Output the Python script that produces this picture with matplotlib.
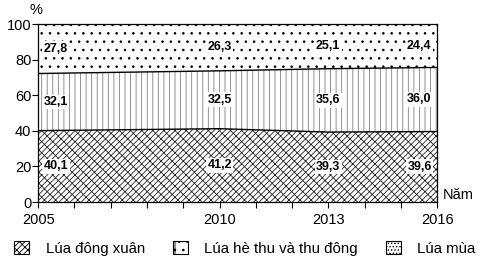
import numpy as np
import matplotlib.pyplot as plt
from matplotlib.patches import Patch

plt.rcParams['font.family'] = ['Liberation Sans', 'DejaVu Sans']
plt.rcParams['hatch.linewidth'] = 0.6

## Daten
nam = np.array([2005, 2010, 2013, 2016])
dong_xuan = np.array([40.1, 41.2, 39.3, 39.6])
he_thu = np.array([32.1, 32.5, 35.6, 36.0])
lua_mua = np.array([27.8, 26.3, 25.1, 24.4])
labels = ['Lúa đông xuân', 'Lúa hè thu và thu đông', 'Lúa mùa']

def fmt(v):
    return ('%.1f' % v).replace('.', ',')

b1 = dong_xuan
b2 = dong_xuan + he_thu

h1 = '//////\\\\\\'
h2 = '|||'
h3 = '..'

fig = plt.figure(figsize=(4.9, 2.76), dpi=100)
ax = fig.add_axes([0.078, 0.268, 0.814, 0.645])

ax.fill_between(nam, 0, b1, facecolor='white', edgecolor='0.15', hatch=h1, linewidth=0)
ax.fill_between(nam, b1, b2, facecolor='white', edgecolor='0.5', hatch=h2, linewidth=0)
ax.fill_between(nam, b2, 100, facecolor='white', edgecolor='black', hatch=h3, linewidth=0)
ax.plot(nam, b1, 'k-', lw=1)
ax.plot(nam, b2, 'k-', lw=1)

# Beschriftungen
for i, x in enumerate(nam):
    if i == 0:
        ha, xx = 'left', x + 0.15
    elif i == len(nam) - 1:
        ha, xx = 'right', x - 0.15
    else:
        ha, xx = 'center', x
    for lo, hi, v in [(0, b1[i], dong_xuan[i]), (b1[i], b2[i], he_thu[i]), (b2[i], 100, lua_mua[i])]:
        ax.text(xx, (lo + hi) / 2, fmt(v), ha=ha, va='center', fontsize=9,
                fontweight='bold',
                bbox=dict(facecolor='white', edgecolor='none', pad=1))

ax.set_xlim(2005, 2016)
ax.set_ylim(0, 100)
ax.set_xticks(nam)
ax.set_xticks(np.arange(2005, 2017), minor=True)
ax.set_yticks([0, 20, 40, 60, 80, 100])
ax.tick_params(axis='both', labelsize=10.5, length=4, width=0.8, direction='out')
ax.tick_params(axis='x', which='minor', length=4, width=0.8)
ax.tick_params(axis='x', pad=4)
ax.tick_params(axis='y', pad=1)
for s in ax.spines.values():
    s.set_linewidth(0.9)

ax.text(-0.005, 1.04, '%', transform=ax.transAxes, ha='center', va='bottom', fontsize=10.5)
ax.text(1.015, 0.0, 'Năm', transform=ax.transAxes, ha='left', va='bottom', fontsize=10.5)

handles = [Patch(facecolor='white', edgecolor='black', hatch=h1, lw=0.8),
           Patch(facecolor='white', edgecolor='black', hatch='|..', lw=0.8),
           Patch(facecolor='white', edgecolor='black', hatch='.....', lw=0.8)]
fig.legend(handles, labels, loc='center', bbox_to_anchor=(0.5, 0.1), ncol=3,
           frameon=False, fontsize=10.8, handlelength=1.0, handleheight=1.0,
           columnspacing=1.85, handletextpad=1.1)

fig.savefig('out.png', dpi=100)
